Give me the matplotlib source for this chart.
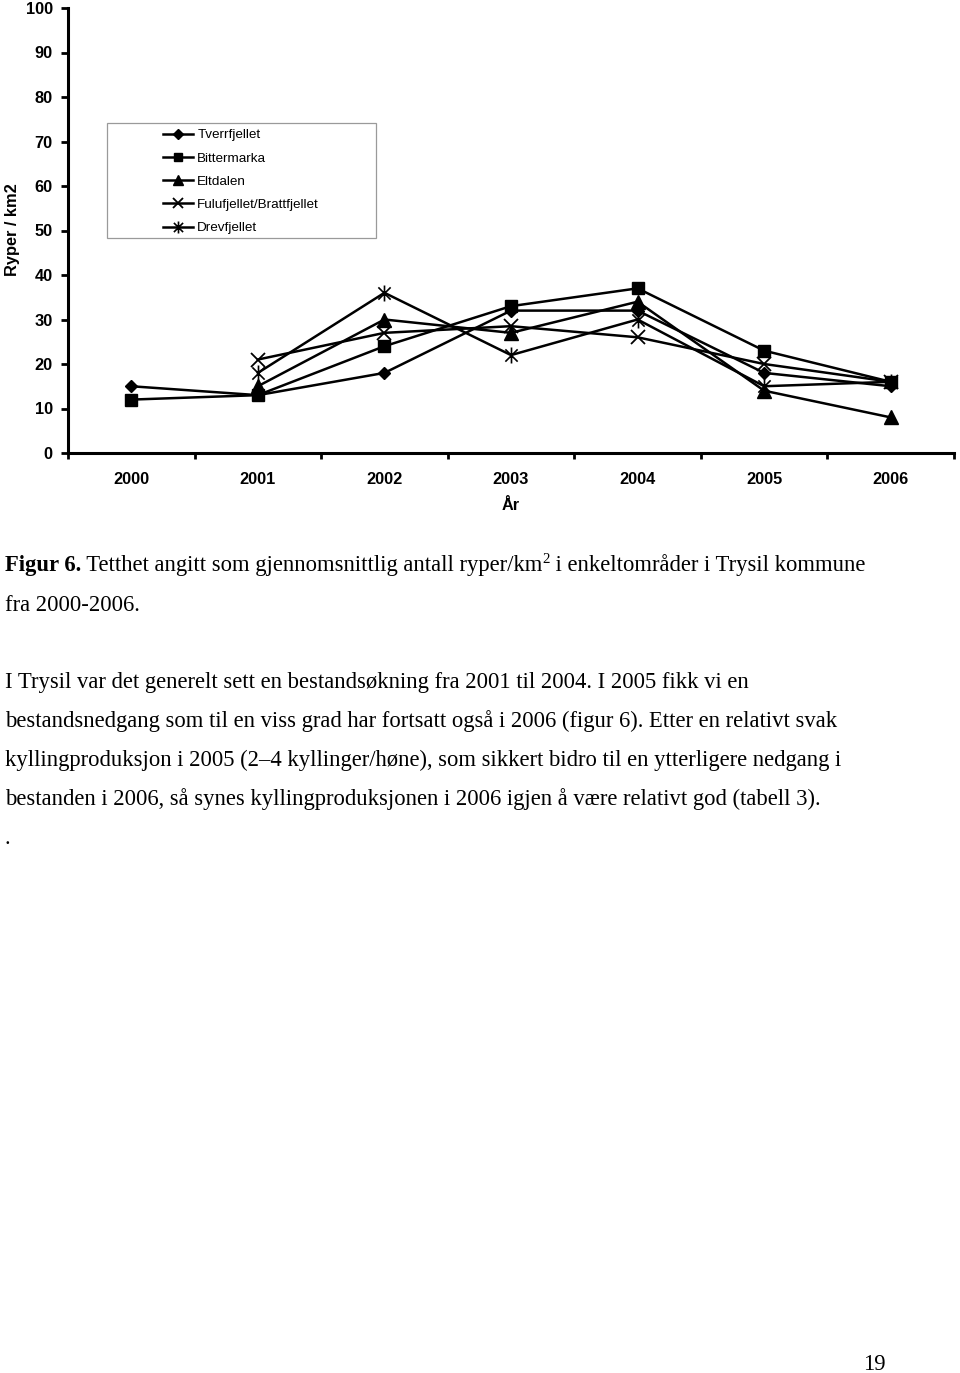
"""Ryper per km2 i Trysil, 2000-2006 (figur 6) med bildetekst."""

import matplotlib

matplotlib.use("Agg")
import matplotlib.pyplot as plt
from matplotlib.path import Path
from matplotlib.patches import Rectangle

W, H = 960, 1373

years = ["2000", "2001", "2002", "2003", "2004", "2005", "2006"]
tverrfjellet = [15, 13, 18, 32, 32, 18, 15]
bittermarka = [12, 13, 24, 33, 37, 23, 16]
eltdalen = [None, 15, 30, 27, 34, 14, 8]
fulufjellet = [None, 21, 27, 28.5, 26, 20, 16]
drevfjellet = [None, 18, 36, 22, 30, 15, 16]

series_names = ["Tverrfjellet", "Bittermarka", "Eltdalen",
                "Fulufjellet/Brattfjellet", "Drevfjellet"]

# Excel-stjerne: kryss + loddrett strek
star = Path([(-1, -1), (1, 1), (-1, 1), (1, -1), (0, -1.3), (0, 1.3)],
            [Path.MOVETO, Path.LINETO, Path.MOVETO, Path.LINETO, Path.MOVETO, Path.LINETO])

styles = [
    dict(marker="D", ms=6.6),
    dict(marker="s", ms=8.5),
    dict(marker="^", ms=9.5),
    dict(marker="x", ms=10.5, mew=1.3),
    dict(marker=star, ms=11.5, mew=1.2),
]


def fx(px):
    return px / W


def fy(py):
    return 1 - py / H


fig = plt.figure(figsize=(W / 100, H / 100), dpi=100)
ax = fig.add_axes([fx(68), fy(453), fx(954) - fx(68), fy(8) - fy(453)])

x = list(range(len(years)))
data = [tverrfjellet, bittermarka, eltdalen, fulufjellet, drevfjellet]
handles = []
for name, vals, st in zip(series_names, data, styles):
    xs = [xi for xi, v in zip(x, vals) if v is not None]
    ys = [v for v in vals if v is not None]
    (ln,) = ax.plot(xs, ys, color="black", lw=1.8, mfc="black", mec="black",
                    label=name, **st)
    handles.append(ln)

ax.set_xlim(-0.5, len(years) - 0.5)
ax.set_ylim(0, 100)
ax.set_yticks(range(0, 101, 10))
ax.set_xticks(x)
ax.set_xticklabels(years)
ax.set_xticks([i - 0.5 for i in range(len(years) + 1)], minor=True)
for side in ("top", "right"):
    ax.spines[side].set_visible(False)
for side in ("left", "bottom"):
    ax.spines[side].set_linewidth(2.2)
ax.tick_params(axis="x", which="major", length=0, pad=14)
ax.tick_params(axis="x", which="minor", length=4, width=2, direction="out")
ax.tick_params(axis="y", length=5, width=2, direction="out", pad=6)
for lab in ax.get_xticklabels() + ax.get_yticklabels():
    lab.set_fontfamily("Liberation Sans")
    lab.set_fontweight("bold")
    lab.set_fontsize(11.8)

fig.text(fx(511), fy(506), "År", ha="center", va="center",
         family="Liberation Sans", weight="bold", fontsize=11.8)
fig.text(fx(13), fy(230), "Ryper / km2", ha="center", va="center", rotation=90,
         family="Liberation Sans", weight="bold", fontsize=11.8)

# legende med egen ramme
fig.add_artist(Rectangle((fx(107), fy(238)), fx(376) - fx(107), fy(123) - fy(238),
                         transform=fig.transFigure, fill=False, edgecolor="#9a9a9a", lw=0.9))
leg = fig.legend(handles=handles, loc="upper left", bbox_to_anchor=(fx(163), fy(129)),
                 frameon=False, borderpad=0, borderaxespad=0, handlelength=2.2,
                 handletextpad=0.35, labelspacing=0.8, markerscale=0.75,
                 prop=dict(family="Liberation Sans", size=9.7))

# bildetekst og brødtekst
fig.canvas.draw()
renderer = fig.canvas.get_renderer()
SERIF = "Liberation Serif"
FS = 16.3


def run(x0, y0, parts):
    xcur = x0
    for txt, weight, size, dy in parts:
        t = fig.text(fx(xcur), fy(y0 - dy), txt, ha="left", va="baseline",
                     family=SERIF, weight=weight, fontsize=size)
        xcur += t.get_window_extent(renderer).width


run(5, 571, [("Figur 6.", "bold", FS, 0),
             (" Tetthet angitt som gjennomsnittlig antall ryper/km", "normal", FS, 0),
             ("2", "normal", FS * 0.66, 8),
             (" i enkeltområder i Trysil kommune", "normal", FS, 0)])
run(5, 611, [("fra 2000-2006.", "normal", FS, 0)])

body = [
    "I Trysil var det generelt sett en bestandsøkning fra 2001 til 2004. I 2005 fikk vi en",
    "bestandsnedgang som til en viss grad har fortsatt også i 2006 (figur 6). Etter en relativt svak",
    "kyllingproduksjon i 2005 (2–4 kyllinger/høne), som sikkert bidro til en ytterligere nedgang i",
    "bestanden i 2006, så synes kyllingproduksjonen i 2006 igjen å være relativt god (tabell 3).",
    ".",
]
for i, line in enumerate(body):
    run(5, 688 + i * 39, [(line, "normal", FS, 0)])

fig.text(fx(874), fy(1370), "19", ha="center", va="baseline", family=SERIF, fontsize=FS)

fig.savefig("out.png", dpi=100, facecolor="white")
